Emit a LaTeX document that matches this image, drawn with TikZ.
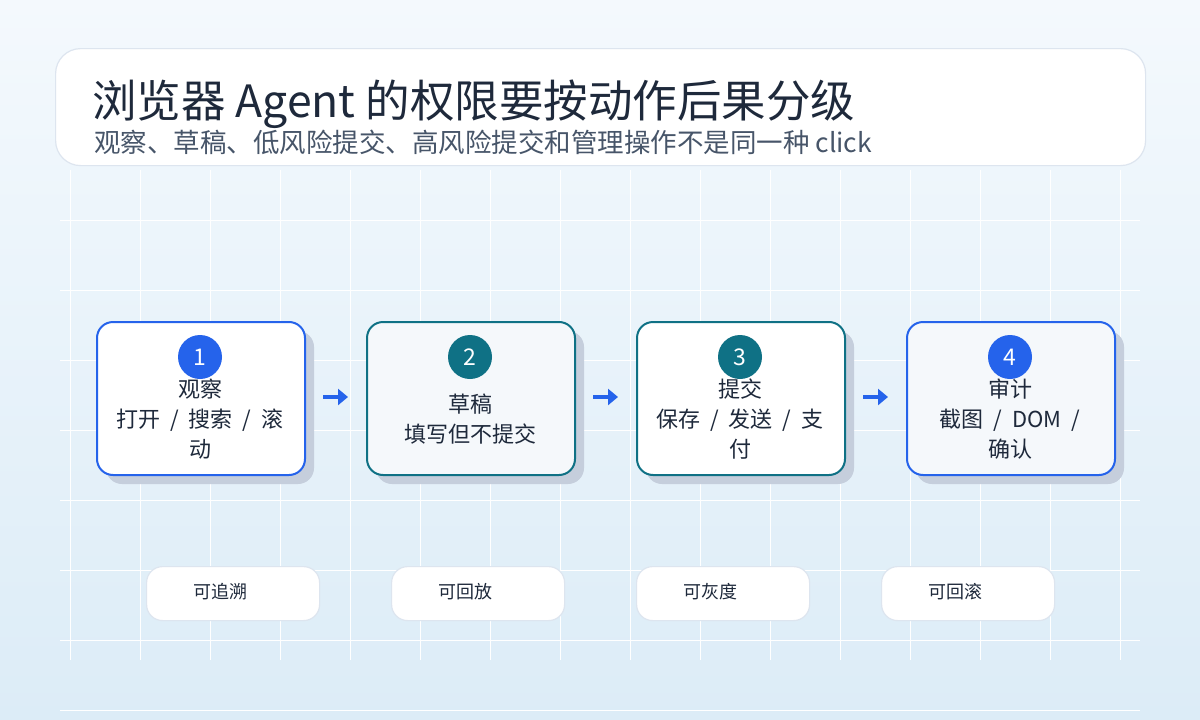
\documentclass[tikz,border=0pt]{standalone}
\usepackage{fontspec}
\setmainfont{Noto Sans CJK SC}
\usetikzlibrary{arrows.meta}
\definecolor{bluec}{HTML}{2563EB}
\definecolor{tealc}{HTML}{0F7185}
\definecolor{txt}{HTML}{1E293B}
\definecolor{sub}{HTML}{475569}
\definecolor{bord}{HTML}{DDE5EF}
\definecolor{shad}{HTML}{C5CEDC}
\definecolor{bgtop}{HTML}{F4F9FD}
\definecolor{bgbot}{HTML}{DCECF7}
\definecolor{soft}{HTML}{F5F8FB}
\newcommand{\myslash}{\hspace{0.45em}/\hspace{0.45em}}
\tikzset{
 stepbox/.style={draw=#1, line width=2pt, rounded corners=16pt, minimum width=208pt, minimum height=153pt, anchor=north west},
 numc/.style={circle, fill=#1, minimum size=44pt, inner sep=0pt, text=white, font=\fontsize{23}{23}\selectfont},
 lbl/.style={align=center, text=txt, font=\fontsize{22}{30}\selectfont},
 pill/.style={draw=bord, line width=1.2pt, fill=white, rounded corners=16pt, minimum width=173pt, minimum height=54pt, anchor=north west},
 arr/.style={-{Triangle[length=10pt,width=16pt]}, line width=4pt, bluec},
}
\begin{document}
\begin{tikzpicture}[x=1pt,y=-1pt]
\shade[top color=bgtop, bottom color=bgbot] (0,0) rectangle (1200,720);
\useasboundingbox (0,0) rectangle (1200,720);
\foreach \x in {70,140,...,1120} \draw[white, line width=1pt] (\x,170) -- (\x,660);
\foreach \y in {220,290,...,710} \draw[white, line width=1pt] (60,\y) -- (1140,\y);
\node[draw=bord, line width=1.2pt, fill=white, rounded corners=25pt, minimum width=1090pt, minimum height=117pt, anchor=north west] (hdr) at (55,48) {};
\node[anchor=base west, text=txt, font=\fontsize{44.5}{44}\selectfont, inner sep=0] (title) at (92,117) {浏览器 Agent 的权限要按动作后果分级};
\node[anchor=base west, text=sub, font=\fontsize{26.5}{26}\selectfont, inner sep=0] (subt) at (94,152) {观察、草稿、低风险提交、高风险提交和管理操作不是同一种 click};
\foreach \i/\x/\c/\f in {1/96/bluec/white,2/366/tealc/soft,3/636/tealc/white,4/906/bluec/soft}{
  \fill[shad, rounded corners=16pt] (\x+10,331) rectangle ++(208,153);
  \node[stepbox=\c, fill=\f] (b\i) at (\x,321) {};
  \node[numc=\c] (n\i) at (\x+104,357) {\i};
}
\node[lbl] (l1) at (200,419) {观察\\打开\myslash 搜索\myslash 滚\\动};
\node[lbl] (l2) at (470,419) {草稿\\填写但不提交};
\node[lbl] (l3) at (740,419) {提交\\保存\myslash 发送\myslash 支\\付};
\node[lbl] (l4) at (1010,419) {审计\\截图\myslash DOM\myslash\\确认};
\coordinate (a1s) at (323,397); \coordinate (a1e) at (348,397);
\coordinate (a2s) at (593,397); \coordinate (a2e) at (618,397);
\coordinate (a3s) at (863,397); \coordinate (a3e) at (888,397);
\draw[arr] (a1s) -- (a1e);
\draw[arr] (a2s) -- (a2e);
\draw[arr] (a3s) -- (a3e);
\foreach \i/\x/\t in {1/146/可追溯,2/391/可回放,3/636/可灰度,4/881/可回滚}{
  \node[pill] (p\i) at (\x,566) {};
  \node[anchor=west, text=txt, font=\fontsize{18}{18}\selectfont, inner sep=0] (pt\i) at (\x+47,592) {\t};
}
\end{tikzpicture}
\end{document}
